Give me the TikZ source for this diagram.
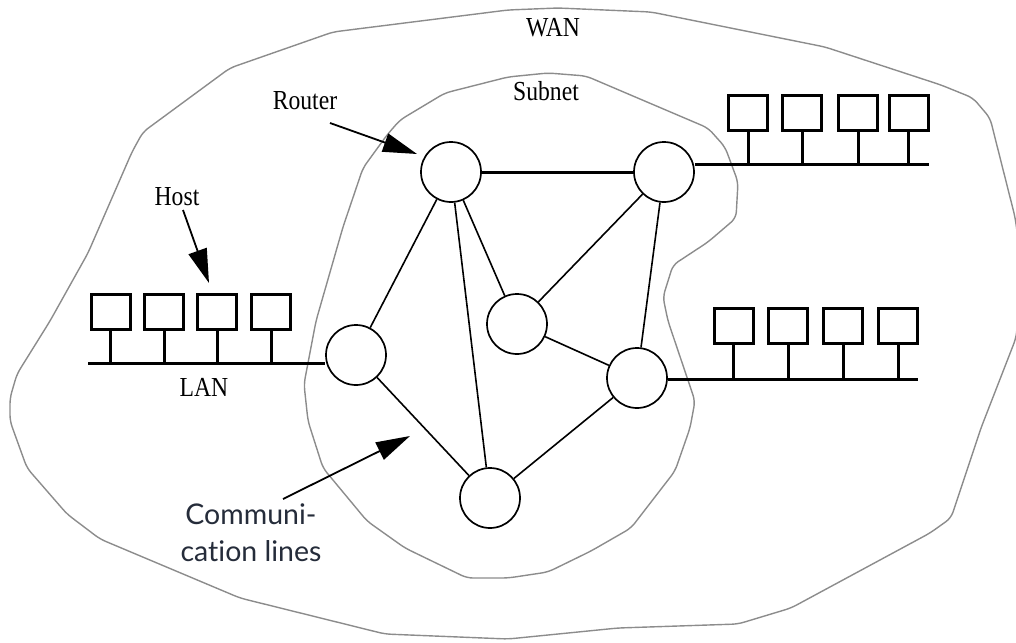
\documentclass[tikz,border=0pt]{standalone}
\usepackage{graphicx}
\usepackage{fontspec}
\setmainfont{Liberation Serif}
\newfontfamily\commfont[Ligatures={NoCommon,NoContextual}]{Lato}
\usetikzlibrary{arrows.meta}
\definecolor{outlinegray}{HTML}{8C8C8C}
\definecolor{commtext}{HTML}{252C3A}
\newcommand{\narrowtext}[1]{\scalebox{0.86}[1]{#1}}
\begin{document}
\begin{tikzpicture}[x=1pt,y=-1pt,
  router/.style={circle,draw,line width=1.7pt,minimum size=60pt,inner sep=0pt},
  hostbox/.style={draw,line width=3pt,minimum width=39pt,minimum height=35pt,inner sep=0pt},
  lanwire/.style={line width=3pt},
  link/.style={line width=1.6pt},
  trunk/.style={line width=3pt},
  region/.style={draw=outlinegray,line width=1.4pt,rounded corners=6pt},
  pointer/.style={line width=1.8pt,-{Triangle[length=34pt,width=19pt]}},
  seriflabel/.style={font=\fontsize{27.5}{30}\selectfont,inner sep=0pt}
]
\useasboundingbox (0,0) rectangle (1016,642);

% WAN outline
\draw[region] (508,10) -- (558,8) -- (651,12) -- (825,47) -- (941,85) -- (973,98) -- (990,118)
  -- (1015,217) -- (1019,245) -- (1020,300) -- (1016,338) -- (981,428) -- (951,518) -- (930,533)
  -- (791,608) -- (738,624) -- (618,628) -- (508,639) -- (385,634) -- (240,598) -- (100,539)
  -- (67,514) -- (27,468) -- (10,421) -- (10,398) -- (17,374) -- (50,321) -- (88,253)
  -- (132,152) -- (143,132) -- (230,68) -- (333,32) -- cycle;

% Subnet outline
\draw[region] (508,77) -- (548,73) -- (586,76) -- (708,128) -- (725,147) -- (738,182) -- (736,218)
  -- (708,242) -- (673,265) -- (663,297) -- (668,321) -- (695,401) -- (690,428) -- (675,471)
  -- (631,528) -- (591,551) -- (548,572) -- (508,578) -- (467,578) -- (405,548) -- (367,521)
  -- (323,468) -- (308,421) -- (304,384) -- (316,321) -- (343,227) -- (363,168) -- (387,135)
  -- (400,120) -- (445,93) -- cycle;

% Routers
\node[router] (R1) at (451,172) {};
\node[router] (R2) at (664,172) {};
\node[router] (R3) at (356,355) {};
\node[router] (R4) at (517,324) {};
\node[router] (R5) at (637,378) {};
\node[router] (R6) at (490,498) {};

% Communication lines
\draw[trunk] (R1) -- (R2);
\draw[link] (R1) -- (R3);
\draw[link] (R1) -- (R6);
\draw[link] (R1) -- (R4);
\draw[link] (R2) -- (R4);
\draw[link] (R2) -- (R5);
\draw[link] (R4) -- (R5);
\draw[link] (R3) -- (R6);
\draw[link] (R5) -- (R6);

% Left LAN
\node[hostbox] (hL1) at (110.5,312) {};
\node[hostbox] (hL2) at (164,312) {};
\node[hostbox] (hL3) at (217,312) {};
\node[hostbox] (hL4) at (271,312) {};
\coordinate (lanLend) at (88,363);
\draw[lanwire] (lanLend) -- (lanLend -| R3.west);
\foreach \h in {hL1,hL2,hL3,hL4}
  \draw[lanwire] (\h.south) -- (\h.south |- lanLend);

% Upper right LAN
\node[hostbox] (hU1) at (748,112.5) {};
\node[hostbox] (hU2) at (802,112.5) {};
\node[hostbox] (hU3) at (858,112.5) {};
\node[hostbox] (hU4) at (908.5,112.5) {};
\coordinate (lanUend) at (929,164);
\draw[lanwire] (R2.east |- lanUend) -- (lanUend);
\foreach \h in {hU1,hU2,hU3,hU4}
  \draw[lanwire] (\h.south) -- (\h.south |- lanUend);

% Lower right LAN
\node[hostbox] (hD1) at (733.5,325.5) {};
\node[hostbox] (hD2) at (788,325.5) {};
\node[hostbox] (hD3) at (843,325.5) {};
\node[hostbox] (hD4) at (898,325.5) {};
\coordinate (lanDend) at (918,379);
\draw[lanwire] (R5.east |- lanDend) -- (lanDend);
\foreach \h in {hD1,hD2,hD3,hD4}
  \draw[lanwire] (\h.south) -- (\h.south |- lanDend);

% Labels
\node[seriflabel] (wan) at (553,28) {\narrowtext{WAN}};
\node[seriflabel] (subnet) at (546,91) {\narrowtext{Subnet}};
\node[seriflabel] (router) at (305,101) {\narrowtext{Router}};
\node[seriflabel] (host) at (177,197) {\narrowtext{Host}};
\node[seriflabel] (lan) at (204,387) {\narrowtext{LAN}};
\node[font=\commfont\fontsize{28.5}{37}\selectfont,text=commtext,align=center,inner sep=0pt] (comm) at (251,533) {Communi-\\cation lines};

% Pointers
\coordinate (routerTail) at (330,123);
\coordinate (routerTip) at (417,154);
\draw[pointer] (routerTail) -- (routerTip);
\coordinate (hostTail) at (183,210);
\coordinate (hostTip) at (209,283);
\draw[pointer] (hostTail) -- (hostTip);
\coordinate (commTail) at (283,499);
\coordinate (commTip) at (410,436);
\draw[pointer] (commTail) -- (commTip);
\end{tikzpicture}
\end{document}
